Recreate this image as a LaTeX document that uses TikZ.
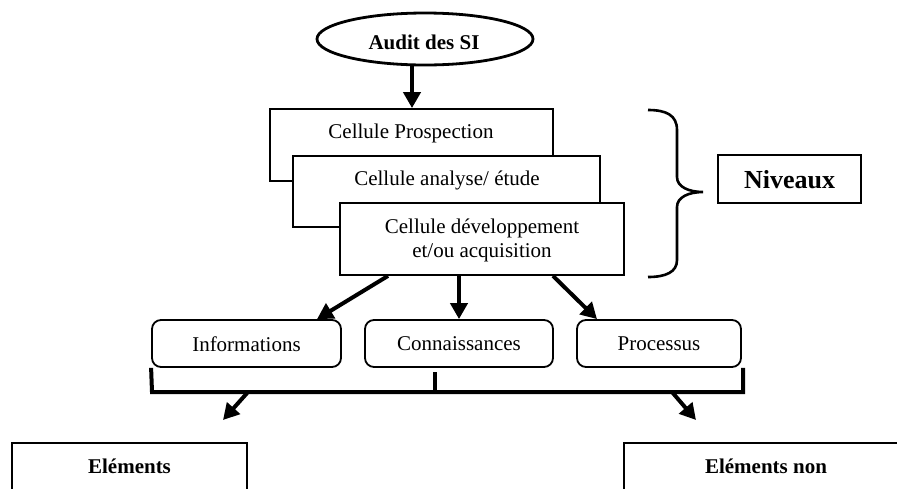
\documentclass[tikz,border=0pt]{standalone}
\usepackage{fontspec}
\setmainfont{Liberation Serif}
\usetikzlibrary{shapes.geometric,arrows.meta}
\tikzset{
  box/.style={draw,line width=1.8pt,fill=white,inner sep=0pt},
  rbox/.style={draw,line width=1.8pt,rounded corners=9pt,fill=white,inner sep=0pt},
  txt/.style={inner sep=0pt,font=\fontsize{21}{24}\selectfont,align=center},
  btxt/.style={inner sep=0pt,font=\fontsize{21}{24}\selectfont\bfseries,align=center},
  arr/.style={line width=4pt,-{Triangle[length=16pt,width=17pt]}},
  brk/.style={line width=4pt},
}
\begin{document}
\begin{tikzpicture}[x=1pt,y=-1pt]
\path[use as bounding box] (0,0) rectangle (897,488);
\clip (0,0) rectangle (897,488);
% top ellipse
\node[ellipse,draw,line width=2.8pt,minimum width=216pt,minimum height=52pt,inner sep=0pt] (audit) at (425,39) {};
\node[btxt] (tAudit) at (424,42) {Audit des SI};
% stacked boxes
\node[box,minimum width=283pt,minimum height=72pt] (b1) at (411.5,145) {};
\node[txt] (t1) at (411,133) {Cellule Prospection};
\node[box,minimum width=307pt,minimum height=71pt] (b2) at (446.5,191.5) {};
\node[txt] (t2) at (447,180) {Cellule analyse/ étude};
\node[box,minimum width=284pt,minimum height=72pt] (b3) at (482,239) {};
\node[txt] (t3) at (482,240) {Cellule développement\\et/ou acquisition};
\coordinate (xa) at (412,0);
\draw[arr] (xa |- audit.south) -- (xa |- b1.north);
% brace
\draw[line width=2.6pt] (648,110) .. controls (666,110) and (677,115) .. (677,130) -- (677,177)
  .. controls (677,187) and (689,192) .. (703,192)
  .. controls (689,192) and (677,197) .. (677,207) -- (677,260)
  .. controls (677,272) and (666,277) .. (648,277);
\node[box,minimum width=143pt,minimum height=48pt] (niv) at (789.5,179) {};
\node[txt,font=\fontsize{26}{30}\selectfont\bfseries] (tniv) at (789.5,180) {Niveaux};
% rounded boxes
\node[rbox,minimum width=189pt,minimum height=47pt] (info) at (246.5,343.5) {};
\node[txt] (tinfo) at (246.5,344) {Informations};
\node[rbox,minimum width=188pt,minimum height=47pt] (conn) at (459,343.5) {};
\node[txt] (tconn) at (459,344) {Connaissances};
\node[rbox,minimum width=164pt,minimum height=47pt] (proc) at (659,343.5) {};
\node[txt] (tproc) at (659,344) {Processus};
% arrows from cell
\coordinate (s1) at (388,0);
\coordinate (e1) at (317,0);
\coordinate (s3) at (553,0);
\coordinate (e3) at (597,0);
\draw[arr] (s1 |- b3.south) -- (e1 |- info.north);
\draw[arr] (conn.north |- b3.south) -- (conn.north);
\draw[arr] (s3 |- b3.south) -- (e3 |- proc.north);
% bracket
\coordinate (bl) at (152,392);
\coordinate (br) at (743,392);
\coordinate (bm) at (435,392);
\draw[brk] (info.south west) -- (bl) -- (br) -- (br |- proc.south);
\draw[brk] (bm |- 0,372) -- (bm);
% bottom boxes
\node[box,minimum width=235pt,minimum height=80pt] (el) at (129.5,483) {};
\node[btxt] (tel) at (129.5,466) {Eléments};
\node[box,minimum width=290pt,minimum height=80pt] (eln) at (769,483) {};
\node[btxt] (teln) at (766,466) {Eléments non};
\coordinate (la) at (248,392);
\coordinate (ra) at (672,392);
\draw[arr] (la) -- (223,420);
\draw[arr] (ra) -- (696,420);
\end{tikzpicture}
\end{document}
